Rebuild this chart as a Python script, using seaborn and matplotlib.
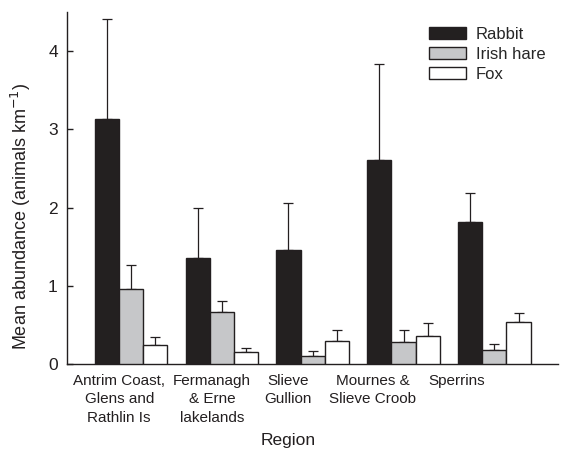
import matplotlib
matplotlib.use("Agg")
import matplotlib.pyplot as plt
import seaborn as sns
import pandas as pd
import numpy as np

regions = ["Antrim Coast,\nGlens and\nRathlin Is", "Fermanagh\n& Erne\nlakelands",
           "Slieve\nGullion", "Mournes &\nSlieve Croob", "Sperrins"]
species = ["Rabbit", "Irish hare", "Fox"]
rabbit = [3.13, 1.35, 1.46, 2.61, 1.82]
rabbit_se = [1.28, 0.64, 0.60, 1.22, 0.36]
hare = [0.96, 0.67, 0.10, 0.28, 0.18]
hare_se = [0.31, 0.14, 0.07, 0.16, 0.08]
fox = [0.25, 0.15, 0.30, 0.36, 0.54]
fox_se = [0.09, 0.05, 0.13, 0.16, 0.11]
colors = ["#231f20", "#c6c7c9", "#ffffff"]
# label placement (layout): where each region's label sits relative to its group
label_pos = [-0.13, 0.89, 1.73, 2.66, 3.58]

df = pd.DataFrame({
    "Region": regions * 3,
    "Species": [s for s in species for _ in regions],
    "Mean": rabbit + hare + fox,
    "SE": rabbit_se + hare_se + fox_se,
})

sns.set_style("ticks")
plt.rcParams["font.family"] = ["Liberation Sans", "DejaVu Sans"]

fig = plt.figure(figsize=(5.67, 4.54), dpi=100)
ax = fig.add_axes([0.119, 0.198, 0.865, 0.776])

sns.barplot(data=df, x="Region", y="Mean", hue="Species", order=regions,
            hue_order=species, palette=colors, width=0.8, errorbar=None,
            edgecolor="#231f20", linewidth=1.0, ax=ax, zorder=3)

# error bars (upper only)
for cont, sp in zip(ax.containers, species):
    sub = df[df["Species"] == sp].set_index("Region").loc[regions]
    xs = [p.get_x() + p.get_width() / 2 for p in cont.patches]
    ys = sub["Mean"].values
    errs = sub["SE"].values
    ax.errorbar(xs, ys, yerr=[np.zeros_like(errs), errs], fmt="none",
                ecolor="#231f20", elinewidth=0.9, capsize=3.5, capthick=0.9, zorder=2)

ax.set_xlim(-0.7, 4.7)
ax.set_ylim(0, 4.5)
ax.set_yticks([0, 1, 2, 3, 4])
ax.set_yticklabels(["0", "1", "2", "3", "4"])
ax.set_xticks(label_pos)
ax.set_xticklabels(regions)
ax.tick_params(axis="y", direction="in", length=4, width=1, pad=7, labelsize=12.5, colors="#231f20")
ax.tick_params(axis="x", length=0, labelsize=11, pad=7, colors="#231f20")
for lab in ax.get_xticklabels():
    lab.set_linespacing(1.4)
for s in ["top", "right"]:
    ax.spines[s].set_visible(False)
for s in ["left", "bottom"]:
    ax.spines[s].set_linewidth(1.0)
    ax.spines[s].set_color("#231f20")

ax.set_xlabel("Region", fontsize=12.5, color="#231f20")
ax.xaxis.set_label_coords(0.45, -0.195)
ax.set_ylabel("Mean abundance (animals km$^{-1}$)", fontsize=13, color="#231f20")
ax.yaxis.set_label_coords(-0.07, 0.418)

leg = ax.legend(loc="upper right", bbox_to_anchor=(1.005, 1.0), frameon=False, fontsize=12,
                handlelength=2.2, handleheight=0.66, labelspacing=0.3, handletextpad=0.6)
for h in leg.legend_handles:
    h.set_edgecolor("#231f20")
    h.set_linewidth(1.0)
fig.savefig("out.png", dpi=100)
